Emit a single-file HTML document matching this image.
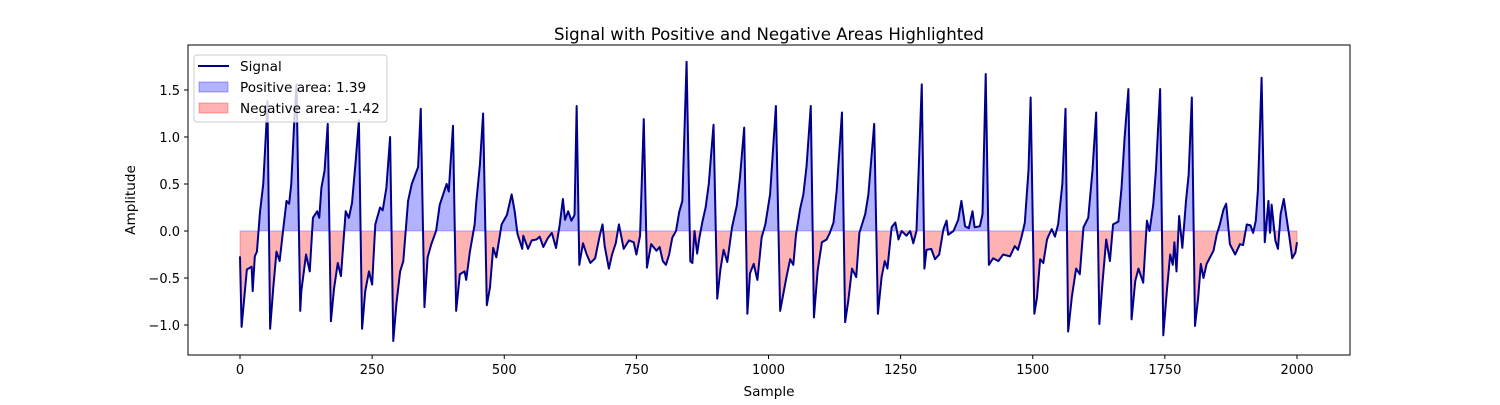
<!DOCTYPE html>
<html><head><meta charset="utf-8"><style>
body{margin:0;background:#fff;}
svg{font-family:"DejaVu Sans","Liberation Sans",sans-serif;}
</style></head><body>
<svg id="chart" width="1500" height="400" viewBox="0 0 1500 400" xmlns="http://www.w3.org/2000/svg">
<rect width="1500" height="400" fill="#fff"/>
<text x="769" y="40" font-size="16.6" text-anchor="middle">Signal with Positive and Negative Areas Highlighted</text>
<defs>
<clipPath id="clipPos"><rect id="cpPos" x="188" y="45" width="1162" height="186"/></clipPath>
<clipPath id="clipNeg"><rect id="cpNeg" x="188" y="231" width="1162" height="124"/></clipPath>
</defs>
<g id="plot"></g>
<rect x="188" y="45" width="1162" height="310" fill="none" stroke="#000" stroke-width="1"/>
<g id="xticks"></g>
<g id="yticks"></g>
<text x="769" y="396" font-size="13.6" text-anchor="middle">Sample</text>
<text x="135" y="200" font-size="13.6" text-anchor="middle" transform="rotate(-90 135 200)">Amplitude</text>
<g>
<rect x="194" y="55" width="193" height="67" rx="3" fill="#fff" fill-opacity="0.8" stroke="#ccc"/>
<line x1="198" y1="66" x2="229" y2="66" stroke="#00008b" stroke-width="2"/>
<text x="240" y="71" font-size="13.6">Signal</text>
<rect x="199" y="82" width="29" height="10" fill="#0000ff" fill-opacity="0.3" stroke="#0000ff" stroke-opacity="0.3"/>
<text x="240" y="92" font-size="13.6">Positive area: 1.39</text>
<rect x="199" y="103" width="29" height="10" fill="#ff0000" fill-opacity="0.3" stroke="#ff0000" stroke-opacity="0.3"/>
<text x="240" y="113" font-size="13.6">Negative area: -1.42</text>
</g>
</svg>
<script>
const samples=[0,3,13,22,24,28,32,38,44,50,52,57,63,69,75,81,88,93,97,103,107,114,116,125,132,138,146,150,154,160,166,172,178,185,191,200,206,212,219,225,231,237,244,250,256,265,270,277,284,290,296,303,309,318,325,337,342,349,355,362,371,378,391,395,403,409,416,425,428,435,444,447,454,460,467,473,479,485,495,505,514,520,525,534,536,545,552,561,567,574,582,590,598,605,611,615,621,627,633,637,642,649,656,663,672,681,686,690,698,704,711,717,726,736,745,750,757,764,770,778,788,794,800,806,812,818,825,831,837,845,852,856,860,865,869,875,881,887,896,903,909,915,922,931,940,946,954,960,965,972,979,987,994,1003,1014,1022,1034,1041,1047,1052,1060,1066,1072,1080,1086,1093,1101,1110,1116,1123,1129,1139,1145,1151,1158,1166,1172,1183,1189,1200,1207,1214,1220,1225,1233,1240,1246,1252,1261,1268,1274,1280,1290,1295,1299,1308,1315,1323,1331,1337,1340,1350,1359,1365,1372,1379,1386,1390,1400,1405,1411,1417,1425,1435,1444,1457,1466,1472,1479,1485,1492,1496,1503,1508,1514,1520,1527,1530,1536,1542,1548,1556,1562,1567,1574,1582,1589,1596,1605,1613,1620,1626,1632,1639,1646,1652,1662,1668,1674,1681,1687,1694,1700,1709,1716,1721,1728,1733,1741,1747,1754,1760,1765,1768,1772,1777,1783,1790,1795,1801,1807,1813,1818,1823,1829,1842,1848,1854,1861,1866,1873,1883,1892,1898,1905,1912,1917,1922,1926,1933,1939,1946,1949,1952,1959,1964,1969,1975,1985,1991,1997,2000];
const amplitude=[-0.27,-1.02,-0.41,-0.38,-0.64,-0.27,-0.22,0.21,0.5,1.14,1.38,-1.04,-0.6,-0.22,-0.32,-0.02,0.32,0.29,0.5,1.21,1.56,-0.85,-0.64,-0.25,-0.43,0.14,0.21,0.14,0.46,0.64,1.14,-0.96,-0.61,-0.34,-0.48,0.21,0.14,0.3,0.75,1.18,-1.04,-0.64,-0.43,-0.57,0.07,0.25,0.22,0.46,1.0,-1.17,-0.77,-0.43,-0.32,0.32,0.5,0.68,1.3,-0.81,-0.28,-0.14,0.0,0.28,0.5,0.42,1.12,-0.85,-0.46,-0.43,-0.52,-0.22,0.07,0.3,0.71,1.25,-0.79,-0.6,-0.18,-0.28,0.07,0.17,0.39,0.2,-0.03,-0.19,-0.05,-0.19,-0.1,-0.09,-0.06,-0.17,-0.08,-0.02,-0.18,0.07,0.34,0.12,0.21,0.11,0.17,1.33,-0.36,-0.13,-0.25,-0.34,-0.29,-0.04,0.07,-0.16,-0.4,-0.25,-0.13,0.07,-0.19,-0.1,-0.12,-0.25,-0.05,1.19,-0.39,-0.14,-0.21,-0.17,-0.32,-0.36,-0.25,-0.07,0.0,0.2,0.32,1.8,-0.32,-0.34,0.0,-0.24,-0.08,0.1,0.25,0.5,1.13,-0.72,-0.41,-0.2,-0.33,0.04,0.27,0.57,1.1,-0.88,-0.45,-0.35,-0.52,-0.07,0.07,0.39,1.33,-0.85,-0.49,-0.3,-0.36,-0.04,0.24,0.39,0.69,1.33,-0.92,-0.42,-0.12,-0.09,-0.02,0.09,0.43,1.26,-0.97,-0.74,-0.4,-0.49,-0.02,0.18,0.39,1.14,-0.88,-0.49,-0.32,-0.4,0.04,0.09,-0.09,0.0,-0.05,0.0,-0.13,0.0,1.56,-0.4,-0.2,-0.19,-0.3,-0.25,0.02,0.11,-0.04,0.0,0.12,0.32,0.05,0.03,0.21,0.04,0.05,0.18,1.67,-0.36,-0.29,-0.32,-0.25,-0.27,-0.16,-0.2,-0.06,0.09,0.65,1.42,-0.88,-0.71,-0.3,-0.34,-0.09,-0.05,0.02,-0.06,0.07,0.5,1.3,-1.07,-0.7,-0.4,-0.46,0.04,0.14,0.64,1.26,-0.99,-0.55,-0.09,-0.32,0.07,0.1,0.46,1.01,1.51,-0.94,-0.53,-0.4,-0.55,0.11,0.0,0.28,0.64,1.51,-1.11,-0.62,-0.25,-0.36,-0.12,-0.43,0.16,-0.18,0.32,0.6,1.42,-1.01,-0.71,-0.35,-0.5,-0.35,-0.21,-0.04,0.07,0.23,0.29,-0.14,-0.25,-0.14,-0.15,0.07,0.06,-0.02,0.11,0.43,1.63,-0.12,0.32,-0.02,0.28,-0.1,-0.19,0.18,0.34,-0.04,-0.29,-0.23,-0.12,-0.13];
const xTickValues=[0,250,500,750,1000,1250,1500,1750,2000];
const yTickValues=[-1.0,-0.5,0.0,0.5,1.0,1.5];
const X=s=>240+s*0.5285, Y=v=>231-v*94;
const NS='http://www.w3.org/2000/svg';
function mk(tag,attrs,parent){const e=document.createElementNS(NS,tag);for(const k in attrs)e.setAttribute(k,attrs[k]);parent.appendChild(e);return e;}
const plot=document.getElementById('plot');
const y0=Y(0);
document.getElementById('cpPos').setAttribute('height',y0-45);
document.getElementById('cpNeg').setAttribute('y',y0);
document.getElementById('cpNeg').setAttribute('height',355-y0);
let line=samples.map((s,i)=>X(s).toFixed(2)+','+Y(amplitude[i]).toFixed(2)).join(' L');
let area='M'+X(samples[0])+','+y0+' L'+line+' L'+X(samples[samples.length-1])+','+y0+' Z';
const pos=mk('path',{d:area,fill:'#0000ff','fill-opacity':0.3,stroke:'#0000ff','stroke-opacity':0.3,'clip-path':'url(#clipPos)'},plot);


const neg=mk('path',{d:area,fill:'#ff0000','fill-opacity':0.3,stroke:'#ff0000','stroke-opacity':0.3,'clip-path':'url(#clipNeg)'},plot);


const sig=mk('path',{d:'M'+line,fill:'none',stroke:'#00008b','stroke-width':2,'stroke-linejoin':'round'},plot);


const xg=document.getElementById('xticks');
xTickValues.forEach(v=>{const x=X(v);
 const t=mk('line',{x1:x,x2:x,y1:355,y2:359,stroke:'#000'},xg);
 
 
 const l=mk('text',{x:x,y:374,'font-size':13,'text-anchor':'middle'},xg);l.textContent=v;
 
 });
const yg=document.getElementById('yticks');
yTickValues.forEach(v=>{const y=Y(v);
 const t=mk('line',{x1:184,x2:188,y1:y,y2:y,stroke:'#000'},yg);
 
 
 const l=mk('text',{x:180,y:y+4.8,'font-size':13,'text-anchor':'end'},yg);l.textContent=v.toFixed(1).replace('-','\u2212');
 
 });
</script>
</body></html>
